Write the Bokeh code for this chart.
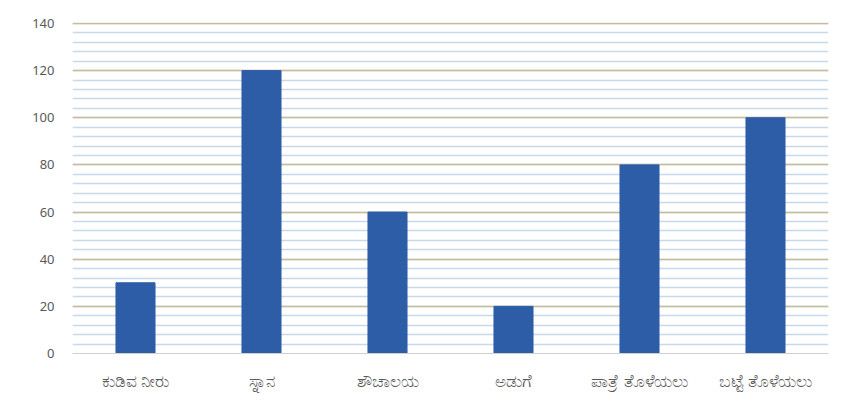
from bokeh.plotting import figure
from bokeh.models import SingleIntervalTicker, Range1d
from bokeh.embed import file_html
from bokeh.resources import INLINE

categories = ["ಕುಡಿವ ನೀರು", "ಸ್ನಾನ", "ಶೌಚಾಲಯ", "ಅಡುಗೆ", "ಪಾತ್ರೆ ತೊಳೆಯಲು", "ಬಟ್ಟೆ ತೊಳೆಯಲು"]
values = [30, 120, 60, 20, 80, 100]

p = figure(x_range=categories, width=833, height=411, output_backend="svg",
           toolbar_location=None, min_border_left=72, min_border_right=5,
           min_border_top=22, min_border_bottom=58)
p.y_range = Range1d(0, 140.4)
p.vbar(x=categories, top=values, width=0.31, color="#2e5da8")

p.outline_line_color = None
p.xgrid.grid_line_color = None
p.yaxis.ticker = SingleIntervalTicker(interval=20, num_minor_ticks=5)
p.ygrid.grid_line_color = "#c8bd98"
p.ygrid.grid_line_width = 1.5
p.ygrid.minor_grid_line_color = "#c9d9ec"
p.ygrid.minor_grid_line_width = 1.5

for ax in (p.xaxis, p.yaxis):
    ax.major_tick_line_color = None
    ax.minor_tick_line_color = None
    ax.major_label_text_color = "#595959"
    ax.major_label_text_font = "Noto Sans"
p.yaxis.major_label_text_font_size = "13px"
p.xaxis.major_label_text_font_size = "17px"
p.yaxis.axis_line_color = None
p.xaxis.axis_line_color = "#d0d0d0"
p.yaxis.major_label_standoff = 12
p.xaxis.major_label_standoff = 9

open("out.html", "w").write(file_html(p, INLINE))
